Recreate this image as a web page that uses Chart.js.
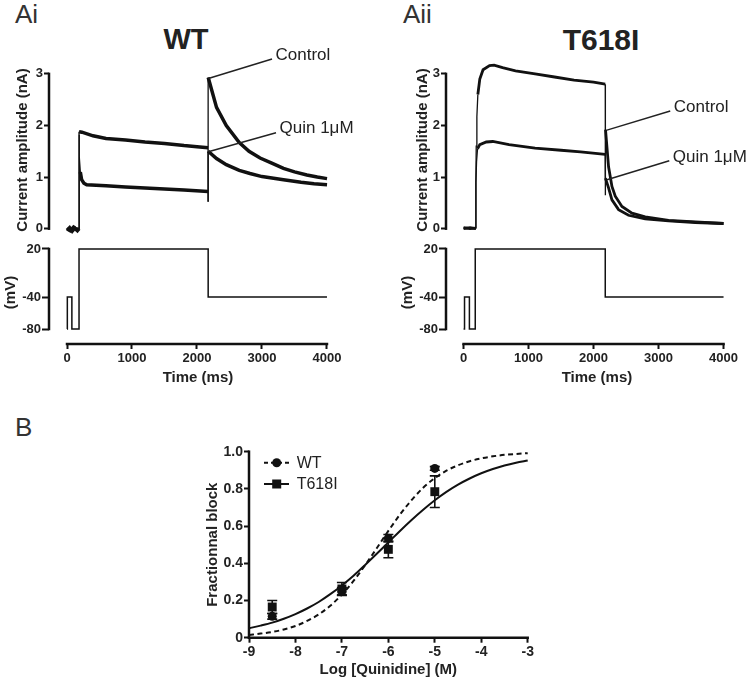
<!DOCTYPE html>
<html>
<head>
<meta charset="utf-8">
<script src="https://cdn.jsdelivr.net/npm/chart.js@4.4.0/dist/chart.umd.min.js"></script>
<style>
  body { margin: 0; background: #fff; }
  #fig { position: relative; width: 750px; height: 683px; overflow: hidden; font-family: "Liberation Sans", Arial, sans-serif; }
  canvas { position: absolute; }
  .lbl { position: absolute; line-height: 1; white-space: nowrap; color: #333; }
  .ttl { position: absolute; line-height: 1; white-space: nowrap; color: #222; font-weight: bold; width: 200px; text-align: center; }
</style>
</head>
<body>
<div id="fig">
  <div class="lbl" style="left:15px;top:1px;font-size:26px;">Ai</div>
  <div class="lbl" style="left:403px;top:1px;font-size:26px;">Aii</div>
  <div class="lbl" style="left:15px;top:414px;font-size:26px;">B</div>
  <div class="ttl" style="left:86px;top:25px;font-size:29px;">WT</div>
  <div class="ttl" style="left:501px;top:25px;font-size:30px;">T618I</div>

  <canvas id="wtCur" width="370" height="199" style="left:0;top:40px"></canvas>
  <canvas id="mutCur" width="353" height="199" style="left:397px;top:40px"></canvas>
  <canvas id="wtVolt" width="347" height="150" style="left:0;top:241px"></canvas>
  <canvas id="mutVolt" width="351" height="150" style="left:397px;top:241px"></canvas>
  <canvas id="dose" width="380" height="243" style="left:180px;top:440px"></canvas>
</div>

<script>
// ---- panel A: current traces (nA) against time (ms) ----
var wtCtrlT = [0, 40, 80, 120, 160, 185, 185, 230, 400, 600, 900, 1200, 1500, 1800, 2000, 2170, 2170, 2172, 2300, 2450, 2650, 2800, 2970, 3150, 3330, 3500, 3690, 3850, 4000];
var wtCtrlI = [-0.03, 0.02, -0.05, 0.01, -0.04, 0.0, 1.88, 1.87, 1.80, 1.75, 1.72, 1.68, 1.65, 1.61, 1.59, 1.57, 0.52, 2.93, 2.35, 2.00, 1.67, 1.50, 1.37, 1.27, 1.17, 1.10, 1.04, 1.00, 0.97];
var wtQuinT = [0, 50, 100, 150, 185, 185, 192, 205, 225, 260, 303, 600, 900, 1200, 1500, 1800, 2170, 2170, 2172, 2300, 2450, 2650, 2815, 3000, 3330, 3600, 3800, 4000];
var wtQuinI = [0.0, -0.04, 0.03, -0.02, 0.0, 1.82, 1.40, 1.10, 0.95, 0.88, 0.85, 0.83, 0.81, 0.79, 0.77, 0.75, 0.72, 0.52, 1.50, 1.36, 1.24, 1.13, 1.07, 1.01, 0.95, 0.90, 0.87, 0.85];

var mutCtrlT = [0, 100, 190, 190, 195, 205, 220, 250, 300, 400, 470, 600, 800, 1100, 1400, 1700, 2000, 2180, 2180, 2184, 2231, 2283, 2334, 2437, 2591, 2795, 3154, 3565, 4000];
var mutCtrlI = [0.02, 0.0, 0.01, 0.9, 1.6, 2.17, 2.6, 2.9, 3.08, 3.16, 3.17, 3.12, 3.06, 3.0, 2.94, 2.88, 2.84, 2.80, 0.65, 1.92, 1.2, 0.82, 0.63, 0.43, 0.30, 0.23, 0.16, 0.13, 0.10];
var mutQuinT = [0, 100, 190, 190, 200, 215, 250, 350, 450, 700, 1100, 1500, 1800, 2180, 2182, 2231, 2283, 2385, 2538, 2795, 3154, 3565, 4000];
var mutQuinI = [0.0, 0.02, 0.0, 0.9, 1.3, 1.55, 1.63, 1.68, 1.69, 1.63, 1.56, 1.52, 1.49, 1.44, 0.98, 0.79, 0.56, 0.37, 0.26, 0.19, 0.15, 0.12, 0.10];

// voltage protocol (mV)
var wtStepT = [0, 5, 5, 75, 75, 185, 185, 2172, 2172, 4000];
var mutStepT = [0, 15, 15, 90, 90, 180, 180, 2180, 2180, 4000];
var stepV = [-80, -80, -40, -40, -80, -80, 20, 20, -40, -40];

var currentTicks = [0, 1, 2, 3];
var voltTicks = [20, -40, -80];
var timeTicks = [0, 1000, 2000, 3000, 4000];

// ---- panel B: dose response ----
var logConc = [-8.5, -7, -6, -5];
var wtBlock = [0.115, 0.25, 0.535, 0.91];
var wtErr = [0.015, 0.02, 0.02, 0.01];
var mutBlock = [0.165, 0.262, 0.475, 0.785];
var mutErr = [0.035, 0.035, 0.045, 0.085];

var fitX = [-9, -8.75, -8.5, -8.25, -8, -7.75, -7.5, -7.25, -7, -6.75, -6.5, -6.25, -6, -5.75, -5.5, -5.25, -5, -4.75, -4.5, -4.25, -4, -3.75, -3.5, -3.25, -3];
var wtFit = [0.015, 0.022, 0.031, 0.044, 0.063, 0.090, 0.125, 0.172, 0.232, 0.305, 0.390, 0.481, 0.574, 0.662, 0.740, 0.806, 0.858, 0.898, 0.927, 0.949, 0.964, 0.975, 0.983, 0.988, 0.992];
var mutFit = [0.051, 0.065, 0.081, 0.102, 0.127, 0.157, 0.192, 0.234, 0.281, 0.333, 0.391, 0.451, 0.512, 0.574, 0.633, 0.688, 0.739, 0.784, 0.823, 0.856, 0.884, 0.907, 0.926, 0.941, 0.953];

var FONT = '"Liberation Sans", Arial, sans-serif';
Chart.defaults.font.family = FONT;
Chart.defaults.color = '#222';

function pts(xs, ys) {
  return xs.map(function (x, i) { return { x: x, y: ys[i] }; });
}

function trace(xs, ys, w) {
  return {
    data: pts(xs, ys), borderColor: '#111', borderWidth: w, pointRadius: 0, tension: 0,
    segment: { borderWidth: function (c) { return Math.abs(c.p1.parsed.x - c.p0.parsed.x) < 20 ? 1.3 : w; } }
  };
}

// axis lines only over the tick range (offset Prism style axes)
function axisLines(xr, yr) {
  return {
    id: 'axisLines',
    afterDraw: function (chart) {
      var ctx = chart.ctx, a = chart.chartArea, s = chart.scales;
      ctx.save();
      ctx.strokeStyle = '#111';
      ctx.lineWidth = 2.5;
      ctx.lineCap = 'square';
      if (yr) {
        ctx.beginPath();
        ctx.moveTo(a.left, s.y.getPixelForValue(yr[0]));
        ctx.lineTo(a.left, s.y.getPixelForValue(yr[1]));
        ctx.stroke();
      }
      if (xr) {
        ctx.beginPath();
        ctx.moveTo(s.x.getPixelForValue(xr[0]), a.bottom);
        ctx.lineTo(s.x.getPixelForValue(xr[1]), a.bottom);
        ctx.stroke();
      }
      ctx.restore();
    }
  };
}

// "Control" / "Quin 1μM" call-outs
function notes(items) {
  return {
    id: 'notes',
    afterDatasetsDraw: function (chart) {
      var ctx = chart.ctx, x = chart.scales.x, y = chart.scales.y;
      ctx.save();
      ctx.strokeStyle = '#222';
      ctx.lineWidth = 1.5;
      ctx.fillStyle = '#222';
      ctx.font = '17px ' + FONT;
      ctx.textBaseline = 'middle';
      items.forEach(function (n) {
        var x0 = x.getPixelForValue(n.at[0]), y0 = y.getPixelForValue(n.at[1]);
        var x1 = x.getPixelForValue(n.to[0]), y1 = y.getPixelForValue(n.to[1]);
        ctx.beginPath();
        ctx.moveTo(x0, y0);
        ctx.lineTo(x1, y1);
        ctx.stroke();
        ctx.fillText(n.text, x1 + 3.5, y1 - 4);
      });
      ctx.restore();
    }
  };
}

function fixedTicks(list) {
  return function (s) { s.ticks = list.map(function (v) { return { value: v }; }); };
}

var tickGrid = { drawOnChartArea: false, tickLength: 5, tickWidth: 2, tickColor: '#111' };

function currentChart(id, sets, xmin, xmax, titlePad, callouts) {
  new Chart(document.getElementById(id), {
    type: 'line',
    data: { datasets: sets },
    options: {
      responsive: false, animation: false,
      layout: { padding: { top: 21 } },
      plugins: { legend: { display: false }, tooltip: { enabled: false } },
      scales: {
        x: { type: 'linear', display: false, min: xmin, max: xmax },
        y: {
          min: -0.2, max: 3.25,
          afterBuildTicks: fixedTicks(currentTicks),
          afterFit: function (s) { s.width = 49; s.paddingTop = 0; s.paddingBottom = 0; },
          border: { display: false },
          grid: tickGrid,
          ticks: { padding: 1, font: { size: 13, weight: 'bold' }, callback: function (v) { return String(v); } },
          title: { display: true, text: 'Current amplitude (nA)', font: { size: 15, weight: 'bold' }, padding: { top: titlePad, bottom: 0 } }
        }
      }
    },
    plugins: [axisLines(null, [0, 3]), notes(callouts)]
  });
}

function voltChart(id, xs, xmin, xmax) {
  new Chart(document.getElementById(id), {
    type: 'line',
    data: { datasets: [{ data: pts(xs, stepV), borderColor: '#111', borderWidth: 1.5, pointRadius: 0, tension: 0 }] },
    options: {
      responsive: false, animation: false,
      layout: { padding: 0 },
      plugins: { legend: { display: false }, tooltip: { enabled: false } },
      scales: {
        x: {
          type: 'linear', min: xmin, max: xmax,
          afterBuildTicks: fixedTicks(timeTicks),
          afterFit: function (s) { s.height = 47; },
          border: { display: false },
          grid: tickGrid,
          ticks: { padding: 2, maxRotation: 0, autoSkip: false, font: { size: 13, weight: 'bold' }, callback: function (v) { return String(v); } },
          title: { display: true, text: 'Time (ms)', font: { size: 15, weight: 'bold' }, padding: { top: 0, bottom: 4 } }
        },
        y: {
          min: -98.75, max: 30,
          afterBuildTicks: fixedTicks(voltTicks),
          afterFit: function (s) { s.width = 49; s.paddingTop = 0; s.paddingBottom = 0; },
          border: { display: false },
          grid: { drawOnChartArea: false, tickLength: 7, tickWidth: 2, tickColor: '#111' },
          ticks: { padding: 1, font: { size: 13, weight: 'bold' }, callback: function (v) { return String(v); } },
          title: { display: true, text: '(mV)', font: { size: 15, weight: 'bold' }, padding: { top: 2, bottom: 0 } }
        }
      }
    },
    plugins: [axisLines([0, 4000], [-80, 20])]
  });
}

currentChart('wtCur', [trace(wtCtrlT, wtCtrlI, 3.5), trace(wtQuinT, wtQuinI, 3.5)], -277, 4661, 14, [
  { at: [2174, 2.91], to: [3154, 3.29], text: 'Control' },
  { at: [2174, 1.49], to: [3215, 1.86], text: 'Quin 1\u03bcM' }
]);
currentChart('mutCur', [trace(mutCtrlT, mutCtrlI, 2.8), trace(mutQuinT, mutQuinI, 2.8)], -270, 4407, 17, [
  { at: [2206, 1.91], to: [3180, 2.28], text: 'Control' },
  { at: [2206, 0.95], to: [3165, 1.315], text: 'Quin 1\u03bcM' }
]);
voltChart('wtVolt', wtStepT, -277, 4308);
voltChart('mutVolt', mutStepT, -270, 4376);

// ---- panel B ----
var errorBars = {
  id: 'errorBars',
  beforeDatasetsDraw: function (chart) {
    var ctx = chart.ctx, y = chart.scales.y;
    ctx.save();
    ctx.strokeStyle = '#111';
    ctx.lineWidth = 1.6;
    [[2, wtErr, wtBlock], [3, mutErr, mutBlock]].forEach(function (e) {
      chart.getDatasetMeta(e[0]).data.forEach(function (p, i) {
        var top = y.getPixelForValue(e[2][i] + e[1][i]);
        var bot = y.getPixelForValue(e[2][i] - e[1][i]);
        ctx.beginPath();
        ctx.moveTo(p.x, top); ctx.lineTo(p.x, bot);
        ctx.moveTo(p.x - 5, top); ctx.lineTo(p.x + 5, top);
        ctx.moveTo(p.x - 5, bot); ctx.lineTo(p.x + 5, bot);
        ctx.stroke();
      });
    });
    ctx.restore();
  }
};

var doseLegend = {
  id: 'doseLegend',
  afterDraw: function (chart) {
    var ctx = chart.ctx, a = chart.chartArea;
    var rows = [['WT', [4, 3], 'circle', 11], ['T618I', [], 'rect', 32.3]];
    ctx.save();
    rows.forEach(function (r) {
      var yy = a.top + r[3], x0 = a.left + 15, x1 = a.left + 40, xm = a.left + 27.7;
      ctx.strokeStyle = '#111';
      ctx.fillStyle = '#111';
      ctx.lineWidth = 2;
      ctx.setLineDash(r[1]);
      ctx.beginPath(); ctx.moveTo(x0, yy); ctx.lineTo(x1, yy); ctx.stroke();
      ctx.setLineDash([]);
      if (r[2] === 'circle') {
        ctx.beginPath(); ctx.arc(xm, yy, 4.5, 0, Math.PI * 2); ctx.fill();
      } else {
        ctx.fillRect(xm - 4.5, yy - 4.5, 9, 9);
      }
      ctx.fillStyle = '#222';
      ctx.font = '16px ' + FONT;
      ctx.textBaseline = 'middle';
      ctx.fillText(r[0], a.left + 47.7, yy + 1);
    });
    ctx.restore();
  }
};

new Chart(document.getElementById('dose'), {
  type: 'scatter',
  data: {
    datasets: [
      { type: 'line', data: pts(fitX, wtFit), borderColor: '#111', borderWidth: 2, borderDash: [5, 3.5], pointRadius: 0, cubicInterpolationMode: 'monotone' },
      { type: 'line', data: pts(fitX, mutFit), borderColor: '#111', borderWidth: 2, pointRadius: 0, cubicInterpolationMode: 'monotone' },
      { data: pts(logConc, wtBlock), pointStyle: 'circle', pointRadius: 4.5, backgroundColor: '#111', borderColor: '#111', borderWidth: 0 },
      { data: pts(logConc, mutBlock), pointStyle: 'rect', pointRadius: 6.3, backgroundColor: '#111', borderColor: '#111', borderWidth: 0 }
    ]
  },
  options: {
    responsive: false, animation: false, clip: false,
    layout: { padding: { top: 11.7, right: 32.3, left: 0, bottom: 0 } },
    plugins: { legend: { display: false }, tooltip: { enabled: false } },
    scales: {
      x: {
        type: 'linear', min: -9, max: -3,
        afterFit: function (s) { s.height = 45.3; },
        border: { display: false },
        grid: tickGrid,
        ticks: { stepSize: 1, padding: 1, maxRotation: 0, font: { size: 14, weight: 'bold' }, callback: function (v) { return String(v); } },
        title: { display: true, text: 'Log [Quinidine] (M)', font: { size: 15, weight: 'bold' }, padding: { top: 0, bottom: 4 } }
      },
      y: {
        min: 0, max: 1,
        afterFit: function (s) { s.width = 69; s.paddingTop = 0; s.paddingBottom = 0; },
        border: { display: false },
        grid: tickGrid,
        ticks: { stepSize: 0.2, padding: 1, font: { size: 14, weight: 'bold' }, callback: function (v) { return v === 0 ? '0' : v.toFixed(1); } },
        title: { display: true, text: 'Fractionnal block', font: { size: 15, weight: 'bold' }, padding: { top: 24, bottom: 0 } }
      }
    }
  },
  plugins: [axisLines([-9, -3], [0, 1]), errorBars, doseLegend]
});
</script>
</body>
</html>
